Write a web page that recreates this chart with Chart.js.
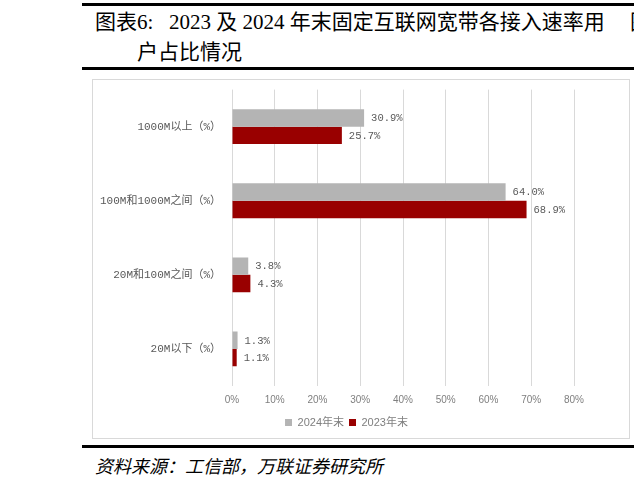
<!DOCTYPE html>
<html>
<head>
<meta charset="utf-8">
<script src="https://cdn.jsdelivr.net/npm/chart.js@4.4.1/dist/chart.umd.min.js"></script>
<style>
  html, body { margin: 0; padding: 0; width: 634px; height: 483px; overflow: hidden; background: #fff; }
  .rule { position: absolute; left: 82px; right: 0; height: 3px; background: #000; }
  .title { position: absolute; left: 95px; font-family: "Liberation Serif", "Noto Sans CJK SC", serif; font-size: 21px; color: #000; white-space: pre; line-height: 30px; }
  #box { position: absolute; left: 92px; top: 79px; width: 536px; height: 358px; border: 1px solid #d9d9d9; }
  .source { position: absolute; left: 95px; top: 452px; font-family: "Noto Sans CJK SC", sans-serif; font-style: italic; font-size: 18px; color: #000; white-space: pre; }
</style>
</head>
<body>
<div class="rule" style="top:3px"></div>
<div class="title" style="top:7px">图表6:   2023 及 2024 年末固定互联网宽带各接入速率用</div>
<div class="title" style="top:7px; left:630px">图表7</div>
<div class="title" style="top:37px; left:137px">户占比情况</div>
<div class="rule" style="top:67px"></div>
<div id="box"><canvas id="canvas-speed"></canvas></div>
<div class="rule" style="top:445px"></div>
<div class="source">资料来源：工信部，万联证券研究所</div>

<script>
// data
const categories = ['1000M以上（%）', '100M和1000M之间（%）', '20M和100M之间（%）', '20M以下（%）'];
const seriesNames = ['2024年末', '2023年末'];
const values2024 = [30.9, 64.0, 3.8, 1.3];
const values2023 = [25.7, 68.9, 4.3, 1.1];
const xTicks = [0, 10, 20, 30, 40, 50, 60, 70, 80];

// value labels at bar ends
const barLabels = {
    id: 'barLabels',
    afterDatasetsDraw(chart) {
        const ctx = chart.ctx;
        ctx.save();
        ctx.font = '10.5px "Liberation Mono", "Noto Sans CJK SC", monospace';
        ctx.fillStyle = '#595959';
        ctx.textBaseline = 'middle';
        ctx.textAlign = 'left';
        chart.data.datasets.forEach((ds, i) => {
            chart.getDatasetMeta(i).data.forEach((bar, j) => {
                ctx.fillText(ds.data[j].toFixed(1) + '%', bar.x + 7, bar.y + 0.5);
            });
        });
        ctx.restore();
    }
};

// legend sits a little right of the canvas centre in the original
const legendShift = {
    id: 'legendShift',
    afterLayout(chart) {
        chart.legend.left += 13;
        chart.legend.right += 13;
    }
};

var ctx = document.getElementById('canvas-speed').getContext('2d');
var speedChart = new Chart(ctx, {
    type: 'bar',
    data: {
        labels: categories,
        datasets: [{
            label: seriesNames[0],
            data: values2024,
            backgroundColor: '#b4b4b4',
            barPercentage: 1,
            categoryPercentage: 0.47
        }, {
            label: seriesNames[1],
            data: values2023,
            backgroundColor: '#990000',
            barPercentage: 1,
            categoryPercentage: 0.47
        }]
    },
    options: {
        indexAxis: 'y',
        responsive: true,
        maintainAspectRatio: false,
        animation: false,
        layout: { padding: { top: 0, right: 55, bottom: 0, left: 0 } },
        scales: {
            x: {
                min: xTicks[0],
                max: xTicks[xTicks.length - 1],
                afterBuildTicks: scale => { scale.ticks = xTicks.map(v => ({ value: v })); },
                afterFit: scale => { scale.height = 26; },
                grid: { color: '#d9d9d9', drawTicks: false },
                border: { display: false },
                ticks: {
                    padding: 8,
                    color: '#7f7f7f',
                    font: { family: '"Liberation Sans", sans-serif', size: 10 },
                    callback: v => v + '%'
                }
            },
            y: {
                afterFit: scale => { scale.width = 139; },
                grid: { display: false },
                border: { display: false },
                ticks: {
                    padding: 3,
                    color: '#595959',
                    font: { family: '"Liberation Mono", "Noto Sans CJK SC", monospace', size: 11 }
                }
            }
        },
        plugins: {
            legend: {
                position: 'bottom',
                labels: {
                    boxWidth: 7,
                    boxHeight: 7,
                    padding: 5,
                    color: '#7f7f7f',
                    font: { family: '"Liberation Sans", "Noto Sans CJK SC", sans-serif', size: 11 }
                }
            },
            tooltip: { enabled: false }
        }
    },
    plugins: [barLabels, legendShift]
});
</script>
</body>
</html>
